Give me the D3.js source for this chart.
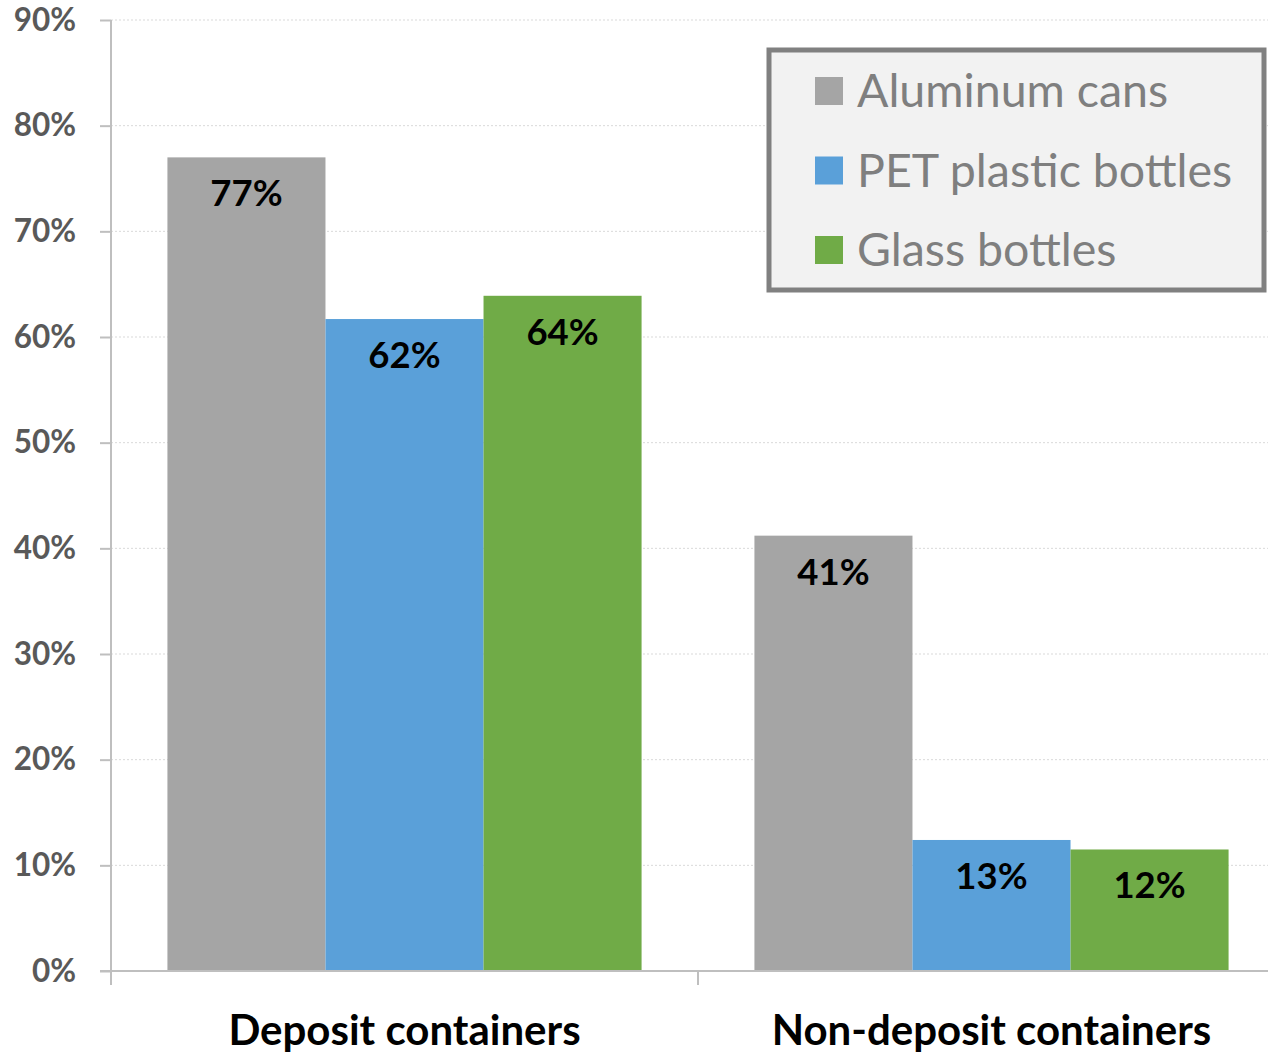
<!DOCTYPE html>
<html><head><meta charset="utf-8">
<script src="https://cdn.jsdelivr.net/npm/d3@7"></script>
<style>body{margin:0;background:#fff}svg{display:block}</style>
</head><body>
<svg id="c" width="1268" height="1055"></svg>
<script>
const categories = ["Deposit containers", "Non-deposit containers"];
const seriesNames = ["Aluminum cans", "PET plastic bottles", "Glass bottles"];
const aluminum = [77.0, 41.2];
const pet = [61.7, 12.4];
const glass = [63.9, 11.5];
const valueLabels = [["77%", "62%", "64%"], ["41%", "13%", "12%"]];
const yTicks = [0, 10, 20, 30, 40, 50, 60, 70, 80, 90];
const colors = ["#a5a5a5", "#5aa0d9", "#70ab47"];

const seriesValues = [aluminum, pet, glass];
const svg = d3.select("#c");
const x0 = 111, yBottom = 971, yTop = 20;
const x = d3.scaleBand().domain(categories).range([x0, 1285]).paddingInner(0).paddingOuter(0);
const y = d3.scaleLinear().domain([0, 90]).range([yBottom, yTop]);
const xs = d3.scaleBand().domain(seriesNames).range([0, x.bandwidth()]).paddingOuter(0.357).paddingInner(0);
const font = "Lato, 'Open Sans', sans-serif";

// gridlines
svg.append("g").selectAll("line").data(yTicks.filter(d => d > 0)).join("line")
  .attr("x1", x0).attr("x2", 1268).attr("y1", d => y(d)).attr("y2", d => y(d))
  .attr("stroke", "#d9d9d9").attr("stroke-width", 1).attr("stroke-dasharray", "2,2");

// bars
const groups = svg.append("g").selectAll("g").data(categories).join("g")
  .attr("transform", d => `translate(${x(d)},0)`);
groups.each(function(cat, ci) {
  const g = d3.select(this);
  seriesNames.forEach((s, si) => {
    const v = seriesValues[si][ci];
    g.append("rect").attr("x", xs(s)).attr("width", xs.bandwidth())
      .attr("y", y(v)).attr("height", y(0) - y(v)).attr("fill", colors[si]);
    g.append("text").attr("x", xs(s) + xs.bandwidth() / 2).attr("y", y(v) + 49)
      .attr("text-anchor", "middle").attr("font-family", font).attr("font-weight", "bold")
      .attr("font-size", 36.5).attr("fill", "#000").text(valueLabels[ci][si]);
  });
});

// y axis
const yAxis = d3.axisLeft(y).tickValues(yTicks).tickFormat(d => d + "%").tickSize(11).tickPadding(24);
const ya = svg.append("g").attr("transform", `translate(${x0},0)`).call(yAxis);
ya.select(".domain").remove();
ya.selectAll(".tick line").attr("stroke", "#bfbfbf").attr("stroke-width", 2);
ya.selectAll(".tick text").attr("font-family", font).attr("font-weight", "bold").attr("font-size", 31.5).attr("fill", "#595959");
svg.append("line").attr("x1", x0).attr("x2", x0).attr("y1", yTop).attr("y2", 985).attr("stroke", "#bfbfbf").attr("stroke-width", 2);

// x axis
const xa = svg.append("g").attr("transform", `translate(0,${yBottom})`).call(d3.axisBottom(x).tickSize(0).tickPadding(74));
xa.select(".domain").remove();
xa.selectAll(".tick text").attr("font-family", font).attr("font-weight", "bold").attr("font-size", 42).attr("fill", "#000").attr("dy", "0");
svg.append("line").attr("x1", 100).attr("x2", 1268).attr("y1", yBottom).attr("y2", yBottom).attr("stroke", "#bfbfbf").attr("stroke-width", 2);
svg.append("g").selectAll("line").data(categories.slice(1)).join("line")
  .attr("x1", d => x(d)).attr("x2", d => x(d)).attr("y1", yBottom).attr("y2", 985)
  .attr("stroke", "#bfbfbf").attr("stroke-width", 2);

// legend
const lg = svg.append("g");
lg.append("rect").attr("x", 769).attr("y", 50).attr("width", 495).attr("height", 240)
  .attr("fill", "#f2f2f2").attr("stroke", "#808080").attr("stroke-width", 5);
seriesNames.forEach((s, i) => {
  const cy = 91 + i * 79.5;
  lg.append("rect").attr("x", 815).attr("y", cy - 14).attr("width", 28).attr("height", 28).attr("fill", colors[i]);
  lg.append("text").attr("x", 857).attr("y", cy).attr("dy", "0.35em").attr("font-family", font)
    .attr("font-size", 46.5).attr("fill", "#7f7f7f").text(s);
});
</script>
</body></html>
